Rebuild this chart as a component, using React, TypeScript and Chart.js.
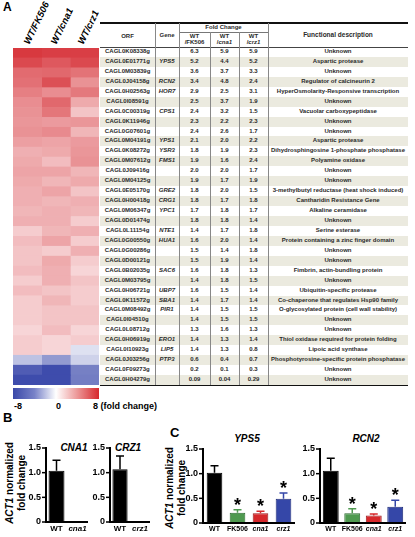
import React, { useEffect, useRef } from "react";
import { Chart, registerables } from "chart.js";
Chart.register(...registerables);

const FONT = "'Liberation Sans', Arial, Helvetica, sans-serif";

// ---------- Panel A data ----------
const orfs = [
  "CAGL0K08338g", "CAGL0E01771g", "CAGL0M03839g", "CAGL0J04158g", "CAGL0H02563g",
  "CAGL0I08591g", "CAGL0C00319g", "CAGL0K11946g", "CAGL0G07601g", "CAGL0M04191g",
  "CAGL0K08272g", "CAGL0M07612g", "CAGL0J09416g", "CAGL0M04125g", "CAGL0E05170g",
  "CAGL0H00418g", "CAGL0M06347g", "CAGL0D01474g", "CAGL0L11154g", "CAGL0G00550g",
  "CAGL0G00286g", "CAGL0D00121g", "CAGL0B02035g", "CAGL0M03795g", "CAGL0H06721g",
  "CAGL0K11572g", "CAGL0M08492g", "CAGL0I04510g", "CAGL0L08712g", "CAGL0H06919g",
  "CAGL0I10923g", "CAGL0J03256g", "CAGL0F09273g", "CAGL0H04279g",
];
const genes = [
  "", "YPS5", "", "RCN2", "HOR7", "", "CPS1", "", "", "YPS1",
  "YSR3", "FMS1", "", "", "GRE2", "CRG1", "YPC1", "", "NTE1", "HUA1",
  "", "", "SAC6", "", "UBP7", "SBA1", "PIR1", "", "", "ERO1",
  "LIP5", "PTP3", "", "",
];
const fcFK506 = [
  "6.3", "5.2", "3.6", "3.4", "2.9", "2.5", "2.4", "2.3", "2.4", "2.1",
  "1.8", "1.9", "2.0", "1.9", "1.8", "1.8", "1.7", "1.8", "1.4", "1.6",
  "1.5", "1.5", "1.6", "1.4", "1.6", "1.4", "1.4", "1.4", "1.3", "1.4",
  "1.4", "0.6", "0.2", "0.09",
];
const fcCna1 = [
  "5.9", "4.4", "3.7", "4.8", "2.5", "3.7", "3.2", "2.2", "2.6", "2.0",
  "1.9", "1.6", "2.0", "1.7", "2.0", "1.7", "1.8", "1.8", "1.7", "2.0",
  "1.4", "1.9", "1.8", "1.8", "1.5", "1.7", "1.5", "1.5", "1.6", "1.3",
  "1.3", "0.4", "0.1", "0.04",
];
const fcCrz1 = [
  "5.9", "5.2", "3.3", "2.4", "3.1", "1.9", "1.5", "2.3", "1.7", "2.2",
  "2.3", "2.4", "1.7", "1.9", "1.5", "1.8", "1.7", "1.4", "1.8", "1.4",
  "1.8", "1.4", "1.3", "1.5", "1.4", "1.4", "1.5", "1.5", "1.3", "1.4",
  "0.8", "0.7", "0.3", "0.29",
];
const descriptions = [
  "Unknown", "Aspartic protease", "Unknown", "Regulator of calcineurin 2",
  "HyperOsmolarity-Responsive transcription", "Unknown", "Vacuolar carboxypeptidase",
  "Unknown", "Unknown", "Aspartic protease", "Dihydrosphingosine 1-phosphate phosphatase",
  "Polyamine oxidase", "Unknown", "Unknown", "3-methylbutyl reductase (heat shock induced)",
  "Cantharidin Resistance Gene", "Alkaline ceramidase", "Unknown", "Serine esterase",
  "Protein containing a zinc finger domain", "Unknown", "Unknown",
  "Fimbrin, actin-bundling protein", "Unknown", "Ubiquitin-specific protease",
  "Co-chaperone that regulates Hsp90 family", "O-glycosylated protein (cell wall stability)",
  "Unknown", "Unknown", "Thiol oxidase required for protein folding", "Lipoic acid synthase",
  "Phosphotyrosine-specific protein phosphatase", "Unknown", "Unknown",
];
const heatColumns = [
  { pre: "WT/", name: "FK506", italic: false },
  { pre: "WT/", name: "cna1", italic: true },
  { pre: "WT/", name: "crz1", italic: true },
];
const colorbarTicks = ["-8", "0", "8 (fold change)"];

// ---------- Panel B / C data ----------
const cnaCats = ["WT", "cna1"];
const cnaMean = [1.04, 0];
const cnaErr = [0.21, 0];
const crzCats = ["WT", "crz1"];
const crzMean = [1.07, 0];
const crzErr = [0.27, 0];
const cCats = ["WT", "FK506", "cna1", "crz1"];
const yps5Mean = [1.02, 0.21, 0.2, 0.49];
const yps5Err = [0.14, 0.06, 0.04, 0.12];
const rcn2Mean = [1.06, 0.2, 0.15, 0.33];
const rcn2Err = [0.25, 0.09, 0.03, 0.13];
const cSig = [false, true, true, true];
const italicCats = ["cna1", "crz1"];
const yTicks = [0, 0.5, 1.0, 1.5];
const yTickLabels = ["0", "0.5", "1.0", "1.5"];

function mix(a: number[], b: number[], t: number) {
  const c = a.map((v, i) => Math.round(v + (b[i] - v) * t));
  return `rgb(${c[0]},${c[1]},${c[2]})`;
}
function heatColor(fc: number) {
  const l = Math.log2(fc);
  if (l >= 0) {
    const t = Math.min(1, l / 2.8);
    return mix([255, 255, 255], [214, 48, 55], Math.pow(t, 0.8));
  }
  const t = Math.min(1, -l / 2.6);
  return mix([255, 255, 255], [62, 76, 172], Math.pow(t, 0.85));
}

const fillC = ["#000000", "#4f9a50", "#d6282b", "#3547a8"];
const borderC = ["#000000", "#2d6a30", "#9a1a1c", "#1f2d78"];

function makeBar(
  canvas: HTMLCanvasElement,
  labels: string[],
  means: number[],
  errs: number[],
  sig: boolean[],
  pad: { left: number; right: number; top: number; bottom: number },
  barPct: number,
  xFont: number
) {
  const colored = labels.length > 2;
  const overlay = {
    id: "overlay",
    afterDatasetsDraw(chart: any) {
      const ctx = chart.ctx;
      const meta = chart.getDatasetMeta(0);
      const ys = chart.scales.y;
      const xs = chart.scales.x;
      const a = chart.chartArea;
      meta.data.forEach((bar: any, i: number) => {
        const top = ys.getPixelForValue(means[i] + errs[i]);
        if (errs[i] > 0) {
          ctx.save();
          ctx.strokeStyle = colored ? fillC[i] : "#000";
          ctx.lineWidth = 1.5;
          ctx.beginPath();
          ctx.moveTo(bar.x, bar.y);
          ctx.lineTo(bar.x, top);
          ctx.moveTo(bar.x - 4, top);
          ctx.lineTo(bar.x + 4, top);
          ctx.stroke();
          ctx.restore();
        }
        if (sig[i]) {
          ctx.save();
          ctx.fillStyle = "#000";
          ctx.font = `bold 18px ${FONT}`;
          ctx.textAlign = "center";
          ctx.textBaseline = "alphabetic";
          ctx.fillText("*", bar.x, top + 1);
          ctx.restore();
        }
      });
      ctx.save();
      ctx.strokeStyle = "#000";
      ctx.fillStyle = "#000";
      ctx.lineWidth = 2;
      ctx.beginPath();
      ctx.moveTo(a.left, a.top - 1);
      ctx.lineTo(a.left, a.bottom);
      ctx.lineTo(a.right, a.bottom);
      ctx.stroke();
      ctx.lineWidth = 1.5;
      ctx.font = `bold 9px ${FONT}`;
      ctx.textAlign = "right";
      ctx.textBaseline = "middle";
      yTicks.forEach((v, k) => {
        const y = ys.getPixelForValue(v);
        ctx.beginPath();
        ctx.moveTo(a.left - 4, y);
        ctx.lineTo(a.left, y);
        ctx.stroke();
        ctx.fillText(yTickLabels[k], a.left - 5, y);
      });
      ctx.textAlign = "center";
      ctx.textBaseline = "top";
      labels.forEach((l, i) => {
        const x = xs.getPixelForValue(i);
        ctx.font = `${italicCats.includes(l) ? "italic " : ""}bold ${xFont}px ${FONT}`;
        ctx.fillText(l, x, a.bottom + 3);
      });
      ctx.restore();
    },
  };
  return new Chart(canvas, {
    type: "bar",
    data: {
      labels,
      datasets: [
        {
          data: means,
          backgroundColor: labels.map((_, i) => (colored ? fillC[i] : fillC[0])),
          borderColor: labels.map((_, i) => (colored ? borderC[i] : borderC[0])),
          borderWidth: 1,
          barPercentage: barPct,
          categoryPercentage: 1,
        },
      ],
    },
    options: {
      animation: false,
      responsive: false,
      maintainAspectRatio: false,
      layout: { padding: pad },
      plugins: { legend: { display: false }, tooltip: { enabled: false } },
      scales: {
        x: { display: false },
        y: { display: false, min: 0, max: 1.5 },
      },
    },
    plugins: [overlay],
  });
}

const abs = (l: number, t: number, extra: any = {}) => ({ position: "absolute" as const, left: l, top: t, ...extra });

export default function App() {
  const heatRef = useRef<HTMLCanvasElement>(null);
  const cnaRef = useRef<HTMLCanvasElement>(null);
  const crzRef = useRef<HTMLCanvasElement>(null);
  const ypsRef = useRef<HTMLCanvasElement>(null);
  const rcnRef = useRef<HTMLCanvasElement>(null);

  useEffect(() => {
    const cols = [fcFK506, fcCna1, fcCrz1];
    const heat = new Chart(heatRef.current!, {
      type: "bar",
      data: {
        labels: orfs,
        datasets: cols.map((col, j) => ({
          label: heatColumns[j].name,
          data: orfs.map(() => 1),
          backgroundColor: col.map((v) => heatColor(parseFloat(v))),
          borderWidth: 0,
          barPercentage: 1,
          categoryPercentage: 1,
        })),
      },
      options: {
        indexAxis: "y",
        animation: false,
        responsive: false,
        maintainAspectRatio: false,
        layout: { padding: 0 },
        plugins: { legend: { display: false }, tooltip: { enabled: false } },
        scales: {
          x: { stacked: true, display: false, min: 0, max: 3 },
          y: { stacked: true, display: false },
        },
      },
    });
    const padB = { left: 26, right: 2, top: 8, bottom: 15 };
    const padC = { left: 26, right: 2, top: 8, bottom: 14 };
    const c1 = makeBar(cnaRef.current!, cnaCats, cnaMean, cnaErr, [false, false], padB, 0.76, 8);
    const c2 = makeBar(crzRef.current!, crzCats, crzMean, crzErr, [false, false], padB, 0.76, 8);
    const c3 = makeBar(ypsRef.current!, cCats, yps5Mean, yps5Err, cSig, padC, 0.68, 7);
    const c4 = makeBar(rcnRef.current!, cCats, rcn2Mean, rcn2Err, cSig, padC, 0.74, 7);
    return () => {
      heat.destroy();
      c1.destroy();
      c2.destroy();
      c3.destroy();
      c4.destroy();
    };
  }, []);

  // table geometry
  const edges = [100, 155, 179, 210, 239, 268, 408];
  const rowTop = 47;
  const rowBottom = 385;
  const rowH = (rowBottom - rowTop) / orfs.length;
  const txt = "#2a2a2a";

  const cell = (x0: number, x1: number, y: number, h: number, content: any, extra: any = {}) => (
    <div
      style={{
        position: "absolute",
        left: x0,
        top: y,
        width: x1 - x0,
        height: h,
        lineHeight: `${h}px`,
        textAlign: "center",
        fontSize: 6,
        fontWeight: "bold",
        whiteSpace: "nowrap",
        color: txt,
        ...extra,
      }}
    >
      {content}
    </div>
  );

  const yLabel = (cx: number, cy: number) => (
    <div
      style={{
        position: "absolute",
        left: cx - 50,
        top: cy - 12,
        width: 100,
        height: 24,
        transform: "rotate(-90deg)",
        transformOrigin: "center center",
        textAlign: "center",
        fontSize: 10,
        fontWeight: "bold",
        lineHeight: "12px",
        color: "#000",
        pointerEvents: "none",
      }}
    >
      <div>
        <i>ACT1</i> normalized
      </div>
      <div>fold change</div>
    </div>
  );

  const title = (cx: number, cy: number, t: string) => (
    <div
      style={{
        position: "absolute",
        left: cx - 20,
        top: cy - 7,
        width: 40,
        height: 14,
        lineHeight: "14px",
        textAlign: "center",
        fontSize: 10,
        fontWeight: "bold",
        fontStyle: "italic",
        color: "#000",
      }}
    >
      {t}
    </div>
  );

  return (
    <div
      style={{
        position: "absolute",
        left: 0,
        top: 0,
        width: 415,
        height: 537,
        overflow: "hidden",
        background: "#fff",
        fontFamily: FONT,
      }}
    >
      {/* Panel letters */}
      <div style={abs(3, 0, { fontSize: 12, fontWeight: "bold", lineHeight: "14px" })}>A</div>
      <div style={abs(3, 410, { fontSize: 13, fontWeight: "bold", lineHeight: "15px" })}>B</div>
      <div style={abs(170, 425, { fontSize: 13, fontWeight: "bold", lineHeight: "15px" })}>C</div>

      {/* Heatmap column headers */}
      {heatColumns.map((c, j) => (
        <div
          key={c.name}
          style={{
            position: "absolute",
            left: 31 + j * 27,
            top: 35,
            height: 11,
            lineHeight: "11px",
            fontSize: 9.5,
            fontWeight: "bold",
            fontStyle: "italic",
            whiteSpace: "nowrap",
            transform: "rotate(-64deg)",
            transformOrigin: "left bottom",
            color: "#000",
          }}
        >
          {c.pre}
          {c.name}
        </div>
      ))}

      {/* Heatmap */}
      <canvas ref={heatRef} width={86} height={337} style={abs(13, 48, { width: 86, height: 337 })} />

      {/* Colour bar */}
      <div
        style={abs(13, 388, {
          width: 86,
          height: 11,
          background:
            "linear-gradient(to right, rgb(58,72,168) 0%, rgb(120,130,200) 25%, rgb(255,255,255) 50%, rgb(236,150,150) 75%, rgb(214,40,45) 100%)",
        })}
      />
      <div style={abs(14, 401, { fontSize: 9, fontWeight: "bold", lineHeight: "11px" })}>{colorbarTicks[0]}</div>
      <div style={abs(56, 401, { fontSize: 9, fontWeight: "bold", lineHeight: "11px" })}>{colorbarTicks[1]}</div>
      <div style={abs(93, 401, { fontSize: 9, fontWeight: "bold", lineHeight: "11px", whiteSpace: "nowrap" })}>
        {colorbarTicks[2]}
      </div>

      {/* Table backgrounds */}
      {orfs.map((o, i) =>
        i % 2 === 1 ? (
          <div
            key={"bg" + i}
            style={abs(edges[0], rowTop + i * rowH, { width: edges[6] - edges[0], height: rowH, background: "#ebeadf" })}
          />
        ) : null
      )}
      {/* Table lines */}
      <div style={abs(100, 22, { width: 308, height: 1.6, background: "#111" })} />
      <div style={abs(100, rowTop - 0.5, { width: 308, height: 1, background: "#444" })} />
      <div style={abs(100, rowBottom - 0.5, { width: 308, height: 1.6, background: "#111" })} />
      <div style={abs(edges[2], 32, { width: edges[5] - edges[2], height: 1, background: "#777" })} />
      {[1, 2, 5].map((k) => (
        <div key={"vl" + k} style={abs(edges[k], 23, { width: 1, height: rowBottom - 23, background: "#888" })} />
      ))}
      {[3, 4].map((k) => (
        <div key={"vl" + k} style={abs(edges[k], 32, { width: 1, height: rowBottom - 32, background: "#888" })} />
      ))}

      {/* Table header */}
      {cell(edges[0], edges[1], 30, 12, "ORF")}
      {cell(edges[1], edges[2], 29, 12, "Gene")}
      {cell(edges[2], edges[5], 23, 9, "Fold Change")}
      {heatColumns.map((c, j) => (
        <React.Fragment key={"h" + j}>
          {cell(edges[2 + j], edges[3 + j], 33, 7, "WT")}
          {cell(edges[2 + j], edges[3 + j], 39, 7, (
            <span>
              /<span style={{ fontStyle: c.italic ? "italic" : "normal" }}>{c.name}</span>
            </span>
          ))}
        </React.Fragment>
      ))}
      {cell(edges[5], edges[6], 29, 12, "Functional description", { fontSize: 6.5 })}

      {/* Table body */}
      {orfs.map((o, i) => {
        const y = rowTop + i * rowH;
        return (
          <React.Fragment key={o}>
            {cell(edges[0], edges[1], y, rowH, o)}
            {cell(edges[1], edges[2], y, rowH, genes[i], { fontStyle: "italic" })}
            {cell(edges[2], edges[3], y, rowH, fcFK506[i])}
            {cell(edges[3], edges[4], y, rowH, fcCna1[i])}
            {cell(edges[4], edges[5], y, rowH, fcCrz1[i])}
            {cell(edges[5], edges[6], y, rowH, descriptions[i])}
          </React.Fragment>
        );
      })}

      {/* Panels B and C: labels and titles */}
      {yLabel(16, 483)}
      {yLabel(176, 488)}
      {title(74, 448, "CNA1")}
      {title(128, 448, "CRZ1")}
      {title(247, 439, "YPS5")}
      {title(366, 439, "RCN2")}
      <canvas ref={cnaRef} width={70} height={97} style={abs(20, 440, { width: 70, height: 97 })} />
      <canvas ref={crzRef} width={68} height={97} style={abs(84, 440, { width: 68, height: 97 })} />
      <canvas ref={ypsRef} width={120} height={96} style={abs(177, 441, { width: 120, height: 96 })} />
      <canvas ref={rcnRef} width={114} height={96} style={abs(294, 441, { width: 114, height: 96 })} />
    </div>
  );
}
